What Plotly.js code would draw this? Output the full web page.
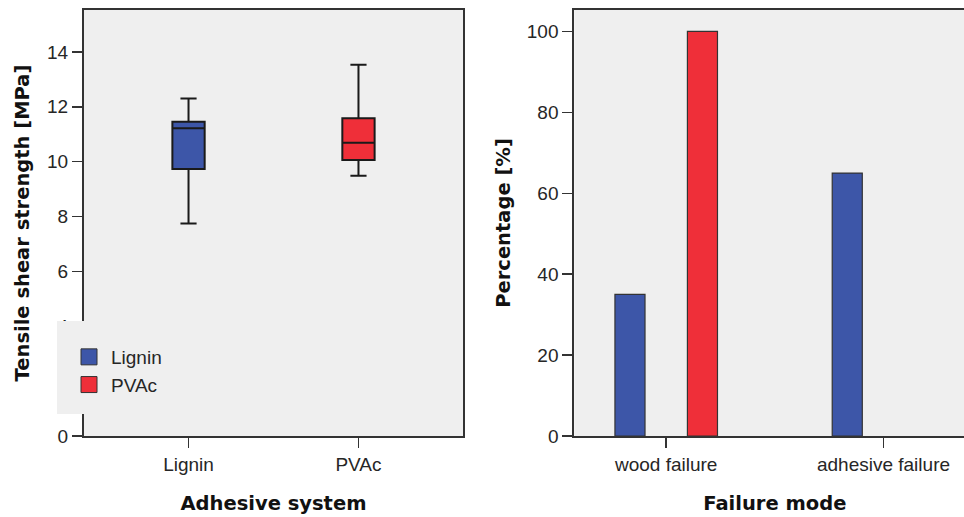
<!DOCTYPE html>
<html>
<head>
<meta charset="utf-8">
<script src="https://cdn.plot.ly/plotly-3.0.1.min.js"></script>
<style>
  html, body { margin: 0; padding: 0; overflow: hidden; background: #fff; }
  #chart { width: 976px; height: 517px; }
</style>
</head>
<body>
<div id="chart"></div>
<script>
// ---- Data ----
const systems = ['Lignin', 'PVAc'];
const lowerWhisker = [7.75, 9.49];
const q1Values = [9.73, 10.06];
const medianValues = [11.22, 10.69];
const q3Values = [11.46, 11.58];
const upperWhisker = [12.30, 13.53];

const failureModes = ['wood failure', 'adhesive failure'];
const ligninPct = [35, 65];
const pvacPct = [100, 0];

const yTicksLeft = [0, 2, 4, 6, 8, 10, 12, 14];
const yTicksRight = [0, 20, 40, 60, 80, 100];

// ---- Styles ----
const seriesColors = ['#3d56a8', '#ef2f39'];
const W = 976, H = 517;
const px = v => v / W;
const py = v => 1 - v / H;

const tickFont = { family: 'Liberation Sans, Arial, sans-serif', size: 19, color: '#262626' };
const titleFont = { family: 'DejaVu Sans, sans-serif', size: 19.5, color: '#111', weight: 'bold' };

const traces = [];
systems.forEach((s, i) => {
  traces.push({
    type: 'box',
    name: s,
    x: [s],
    q1: [q1Values[i]],
    median: [medianValues[i]],
    q3: [q3Values[i]],
    lowerfence: [lowerWhisker[i]],
    upperfence: [upperWhisker[i]],
    width: 0.19,
    whiskerwidth: 0.5,
    fillcolor: seriesColors[i],
    line: { color: '#1a1a1a', width: 2 },
    boxpoints: false,
    showlegend: false,
    hoverinfo: 'skip',
    xaxis: 'x', yaxis: 'y'
  });
});

const pctSeries = [ligninPct, pvacPct];
systems.forEach((s, i) => {
  traces.push({
    type: 'bar',
    name: s,
    x: failureModes,
    y: pctSeries[i],
    marker: {
      color: seriesColors[i],
      // no outline for empty (zero) bars, as in the reference
      line: { color: '#333', width: pctSeries[i].map(v => (v > 0 ? 1.2 : 0)) }
    },
    showlegend: false,
    hoverinfo: 'skip',
    xaxis: 'x2', yaxis: 'y2'
  });
});

// legend-only entries (square swatches)
systems.forEach((s, i) => {
  traces.push({
    type: 'scatter',
    mode: 'markers',
    name: s,
    x: [null], y: [null],
    marker: { symbol: 'square', size: 16, color: seriesColors[i], line: { color: '#333', width: 1 } },
    showlegend: true,
    hoverinfo: 'skip',
    xaxis: 'x', yaxis: 'y'
  });
});

const axisCommon = {
  showline: true, linecolor: '#333', linewidth: 2, mirror: true,
  ticks: 'outside', ticklen: 10, tickwidth: 1.5, tickcolor: '#333',
  showgrid: false, zeroline: false,
  tickfont: tickFont, fixedrange: true
};

const layout = {
  width: W, height: H,
  margin: { l: 0, r: 0, t: 0, b: 0 },
  paper_bgcolor: '#ffffff',
  plot_bgcolor: '#efefef',
  barmode: 'group',
  bargap: 0.333,
  bargroupgap: 0.585,
  boxmode: 'overlay',
  xaxis: Object.assign({}, axisCommon, {
    domain: [px(84), px(463)],
    type: 'category',
    range: [-0.615, 1.615],
    title: { text: 'Adhesive system', font: titleFont, standoff: 23 }
  }),
  yaxis: Object.assign({}, axisCommon, {
    domain: [py(436), py(10)],
    range: [0, 15.53],
    tickvals: yTicksLeft,
    title: { text: 'Tensile shear strength [MPa]', font: titleFont, standoff: 12 }
  }),
  xaxis2: Object.assign({}, axisCommon, {
    domain: [px(574.3), px(975.4)],
    anchor: 'y2',
    type: 'category',
    range: [-0.423, 1.423],
    title: { text: 'Failure mode', font: titleFont, standoff: 23 }
  }),
  yaxis2: Object.assign({}, axisCommon, {
    domain: [py(436), py(10)],
    anchor: 'x2',
    range: [0, 105.3],
    tickvals: yTicksRight,
    title: { text: 'Percentage [%]', font: titleFont, standoff: 11 }
  }),
  legend: {
    x: px(67), y: py(338), xanchor: 'left', yanchor: 'top',
    bgcolor: 'rgba(0,0,0,0)',
    itemwidth: 34,
    font: { family: 'Liberation Sans, Arial, sans-serif', size: 19, color: '#262626' },
    tracegroupgap: 0
  },
  shapes: [{
    type: 'rect', xref: 'paper', yref: 'paper', layer: 'above',
    x0: px(57), x1: px(170), y0: py(414), y1: py(321),
    fillcolor: '#efefef', line: { width: 0 }
  }],
  showlegend: true
};

Plotly.newPlot('chart', traces, layout, { displayModeBar: false, staticPlot: true });
</script>
</body>
</html>
